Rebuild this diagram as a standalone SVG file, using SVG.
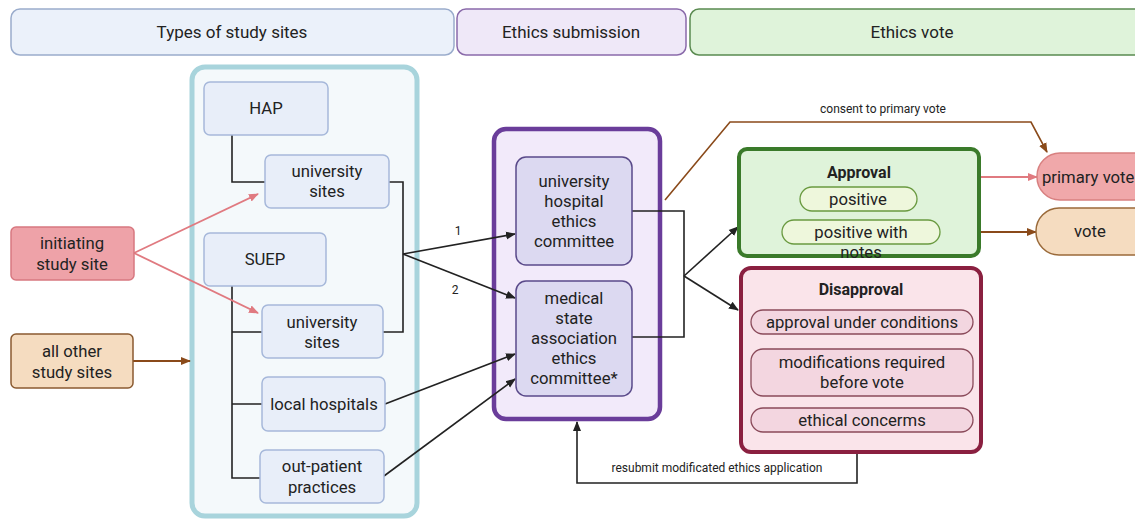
<svg xmlns="http://www.w3.org/2000/svg" width="1135" height="519" viewBox="0 0 1135 519">
<defs>
<style>
text{font-family:Roboto,"Liberation Sans",sans-serif;fill:#222;text-anchor:middle}
.t{font-size:16.7px}
.h{font-size:17px}
.s{font-size:12px}
.b{font-size:16px;font-weight:bold}
.site{fill:#e8eef9;stroke:#a6b8da;stroke-width:1.5}
.ln{fill:none;stroke:#222;stroke-width:1.6}
</style>
<marker id="ak" markerWidth="10" markerHeight="10" refX="9" refY="5" orient="auto" markerUnits="userSpaceOnUse"><path d="M0,1 L10,5 L0,9 Z" fill="#222"/></marker>
<marker id="ap" markerWidth="10" markerHeight="10" refX="9" refY="5" orient="auto" markerUnits="userSpaceOnUse"><path d="M0,1 L10,5 L0,9 Z" fill="#e07a80"/></marker>
<marker id="ab" markerWidth="10" markerHeight="10" refX="9" refY="5" orient="auto" markerUnits="userSpaceOnUse"><path d="M0,1 L10,5 L0,9 Z" fill="#8a4a1a"/></marker>
</defs>
<rect width="1135" height="519" fill="#fff"/>

<g id="headers">
<rect x="11" y="9" width="443" height="46" rx="9" fill="#ebf1fa" stroke="#9aaccc" stroke-width="1.5"/>
<text class="h" x="232" y="38">Types of study sites</text>
<rect x="457" y="9" width="229" height="46" rx="9" fill="#efe8f8" stroke="#8a6aaa" stroke-width="1.5"/>
<text class="h" x="571" y="38">Ethics submission</text>
<rect x="690" y="9" width="460" height="46" rx="9" fill="#dff3da" stroke="#5a8a50" stroke-width="1.5"/>
<text class="h" x="912" y="38">Ethics vote</text>
</g>

<g id="sites-container">
<rect x="192" y="67" width="225" height="449" rx="13" fill="#f4f9fb" stroke="#a8d4dc" stroke-width="5"/>
</g>
<g id="submission-container">
<rect x="494" y="129" width="166" height="290" rx="12" fill="#f2eafa" stroke="#6a3d9a" stroke-width="4.5"/>
</g>

<g id="connectors">
<path class="ln" d="M232,135 V182 H265"/>
<path class="ln" d="M389,182 H403 V332 H383"/>
<path class="ln" d="M232,286 V478 H260 M232,332 H262 M232,404 H262"/>
<line class="ln" x1="403" y1="254" x2="515" y2="234" marker-end="url(#ak)"/>
<line class="ln" x1="403" y1="254" x2="515" y2="298" marker-end="url(#ak)"/>
<text class="s" x="458" y="235">1</text>
<text class="s" x="455" y="294">2</text>
<line class="ln" x1="385" y1="404" x2="515" y2="354" marker-end="url(#ak)"/>
<line class="ln" x1="384" y1="476" x2="515" y2="379" marker-end="url(#ak)"/>
<path class="ln" d="M632,211 H684 V337 H632"/>
<line class="ln" x1="684" y1="276" x2="738" y2="227" marker-end="url(#ak)"/>
<line class="ln" x1="684" y1="276" x2="738" y2="310" marker-end="url(#ak)"/>
<line x1="134" y1="253" x2="258" y2="194" stroke="#e07a80" stroke-width="1.8" marker-end="url(#ap)"/>
<line x1="134" y1="253" x2="258" y2="313" stroke="#e07a80" stroke-width="1.8" marker-end="url(#ap)"/>
<line x1="133" y1="361" x2="190" y2="361" stroke="#8a4a1a" stroke-width="1.8" marker-end="url(#ab)"/>
<path d="M665,200 L730,122 H1031 L1047,152" fill="none" stroke="#8a4a1a" stroke-width="1.6" marker-end="url(#ab)"/>
<text class="s" x="883" y="113">consent to primary vote</text>
<line x1="980" y1="177" x2="1037" y2="177" stroke="#e07a80" stroke-width="2" marker-end="url(#ap)"/>
<line x1="980" y1="232" x2="1036" y2="232" stroke="#8a4a1a" stroke-width="2" marker-end="url(#ab)"/>
<path class="ln" d="M857,453 V483 H577 V422" marker-end="url(#ak)"/>
<text class="s" x="717" y="472">resubmit modificated ethics application</text>
</g>

<g id="hap"><rect class="site" x="204" y="82" width="124" height="53" rx="6"/><text class="t" x="266" y="114">HAP</text></g>
<g id="univ-sites-1"><rect class="site" x="265" y="155" width="124" height="53" rx="6"/><text class="t" x="327" y="177">university</text><text class="t" x="327" y="197">sites</text></g>
<g id="suep"><rect class="site" x="204" y="233" width="122" height="53" rx="6"/><text class="t" x="265" y="265">SUEP</text></g>
<g id="univ-sites-2"><rect class="site" x="262" y="305" width="121" height="53" rx="6"/><text class="t" x="322" y="328">university</text><text class="t" x="322" y="348">sites</text></g>
<g id="local-hospitals"><rect class="site" x="262" y="377" width="123" height="54" rx="6"/><text class="t" x="324" y="410">local hospitals</text></g>
<g id="out-patient"><rect class="site" x="260" y="450" width="124" height="53" rx="6"/><text class="t" x="322" y="472">out-patient</text><text class="t" x="322" y="493">practices</text></g>

<g id="initiating"><rect x="11" y="227" width="123" height="53" rx="5" fill="#eea2a8" stroke="#d87880" stroke-width="1.5"/><text class="t" x="72" y="249">initiating</text><text class="t" x="72" y="270">study site</text></g>
<g id="all-other"><rect x="11" y="334" width="122" height="54" rx="5" fill="#f5dcc0" stroke="#8a5a30" stroke-width="1.5"/><text class="t" x="72" y="357">all other</text><text class="t" x="72" y="378">study sites</text></g>

<g id="uni-hospital-ec"><rect x="516" y="157" width="116" height="108" rx="10" fill="#dcd9f1" stroke="#5a4a8a" stroke-width="1.5"/>
<text class="t" x="574" y="187">university</text><text class="t" x="574" y="207">hospital</text><text class="t" x="574" y="227">ethics</text><text class="t" x="574" y="247">committee</text></g>
<g id="medical-state-ec"><rect x="516" y="281" width="116" height="115" rx="10" fill="#dcd9f1" stroke="#5a4a8a" stroke-width="1.5"/>
<text class="t" x="574" y="304">medical</text><text class="t" x="574" y="324">state</text><text class="t" x="574" y="344">association</text><text class="t" x="574" y="364">ethics</text><text class="t" x="574" y="384">committee*</text></g>

<g id="approval"><rect x="739" y="149" width="240" height="107" rx="8" fill="#dff3da" stroke="#3a7a2a" stroke-width="4"/>
<text class="b" x="859" y="178">Approval</text>
<rect x="800" y="187" width="117" height="24" rx="12" fill="#eef7dc" stroke="#6a9a40" stroke-width="1.3"/><text class="t" x="858" y="205">positive</text>
<rect x="782" y="220" width="158" height="24" rx="12" fill="#eef7dc" stroke="#6a9a40" stroke-width="1.3"/><text class="t" x="861" y="238">positive with</text><text class="t" x="861" y="258">notes</text></g>

<g id="disapproval"><rect x="741" y="268" width="240" height="184" rx="10" fill="#fae4ea" stroke="#8a2040" stroke-width="4"/>
<text class="b" x="861" y="295">Disapproval</text>
<rect x="751" y="310" width="222" height="24" rx="12" fill="#f3d6e0" stroke="#8a4a5a" stroke-width="1.3"/><text class="t" x="862" y="328">approval under conditions</text>
<rect x="751" y="349" width="222" height="47" rx="12" fill="#f3d6e0" stroke="#8a4a5a" stroke-width="1.3"/><text class="t" x="862" y="368">modifications required</text><text class="t" x="862" y="388">before vote</text>
<rect x="751" y="408" width="222" height="24" rx="12" fill="#f3d6e0" stroke="#8a4a5a" stroke-width="1.3"/><text class="t" x="862" y="426">ethical concerms</text></g>

<g id="primary-vote"><rect x="1037" y="153" width="130" height="47" rx="23" fill="#f0a8aa" stroke="#d88080" stroke-width="1.5"/><text class="t" x="1042" y="183" style="text-anchor:start">primary vote</text></g>
<g id="vote"><rect x="1036" y="208" width="130" height="47" rx="23" fill="#f5dcc0" stroke="#9a6a3a" stroke-width="1.5"/><text class="t" x="1090" y="237">vote</text></g>
</svg>
